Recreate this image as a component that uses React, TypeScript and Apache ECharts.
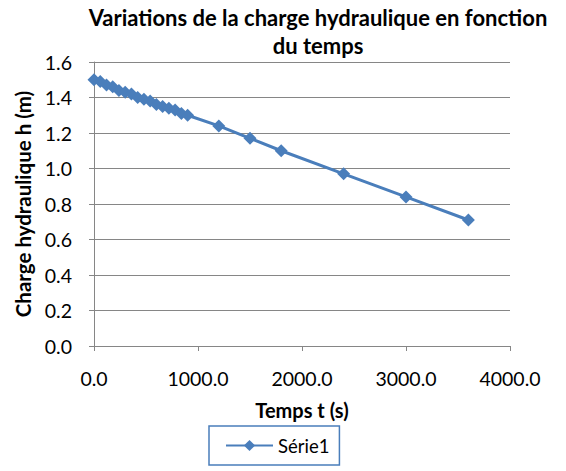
import React, { useEffect, useRef } from "react";
import * as echarts from "echarts";

const timeS: number[] = [0, 60, 120, 180, 240, 300, 360, 420, 480, 540, 600, 660, 720, 780, 840, 900, 1200, 1500, 1800, 2400, 3000, 3600];
const headM: number[] = [1.50, 1.49, 1.47, 1.46, 1.44, 1.43, 1.42, 1.40, 1.39, 1.38, 1.36, 1.35, 1.34, 1.33, 1.31, 1.30, 1.24, 1.17, 1.10, 0.97, 0.84, 0.71];
const seriesName = "Série1";
const titleText = "Variations de la charge hydraulique en fonction\ndu temps";
const xAxisName = "Temps t (s)";
const yAxisName = "Charge hydraulique h (m)";

export default function App() {
  const ref = useRef<HTMLDivElement>(null);
  useEffect(() => {
    document.body.style.margin = "0";
    const chart = echarts.init(ref.current!, null, { renderer: "svg" });
    const font = "Lato, 'Open Sans', sans-serif";
    chart.setOption({
      animation: false,
      backgroundColor: "#ffffff",
      title: {
        text: titleText,
        left: 318,
        textAlign: "center",
        top: 3,
        padding: 0,
        textStyle: { fontFamily: font, fontSize: 22, fontWeight: "bold", color: "#000", lineHeight: 28 },
      },
      grid: { left: 94, right: 56, top: 62, bottom: 125, containLabel: false },
      xAxis: {
        type: "value",
        min: 0,
        max: 4000,
        interval: 1000,
        name: xAxisName,
        nameLocation: "middle",
        nameGap: 54,
        nameTextStyle: { fontFamily: font, fontSize: 20, fontWeight: "bold", color: "#000" },
        axisLine: { show: true, lineStyle: { color: "#868686", width: 1 } },
        axisTick: { show: true, inside: false, length: 5, lineStyle: { color: "#868686" } },
        axisLabel: {
          fontFamily: font, fontSize: 19.5, color: "#000", margin: 22,
          formatter: (v: number) => v.toFixed(1),
        },
        splitLine: { show: false },
      },
      yAxis: {
        type: "value",
        min: 0,
        max: 1.6,
        interval: 0.2,
        name: yAxisName,
        nameLocation: "middle",
        nameGap: 56,
        nameTextStyle: { fontFamily: font, fontSize: 20.5, fontWeight: "bold", color: "#000" },
        axisLine: { show: true, lineStyle: { color: "#868686", width: 1 } },
        axisTick: { show: true, inside: false, length: 5, lineStyle: { color: "#868686" } },
        axisLabel: {
          fontFamily: font, fontSize: 19.5, color: "#000", margin: 22,
          formatter: (v: number) => v.toFixed(1),
        },
        splitLine: { show: true, lineStyle: { color: "#868686", width: 1 } },
      },
      legend: {
        left: 209,
        top: 426,
        borderColor: "#4a7ebb",
        borderWidth: 1.5,
        borderRadius: 0,
        padding: [10, 10, 10, 16],
        itemWidth: 47,
        itemHeight: 14,
        itemGap: 4,
        textStyle: { fontFamily: font, fontSize: 18.5, color: "#000", padding: [0, 0, 0, 0] },
        data: [{ name: seriesName }],
      },
      series: [
        {
          name: seriesName,
          type: "line",
          data: timeS.map((t, i) => [t, headM[i]]),
          symbol: "diamond",
          symbolSize: 13,
          lineStyle: { color: "#4a7ebb", width: 3 },
          itemStyle: { color: "#4a7ebb" },
        },
      ],
    });
    return () => chart.dispose();
  }, []);
  return <div ref={ref} style={{ width: 566, height: 471 }} />;
}
